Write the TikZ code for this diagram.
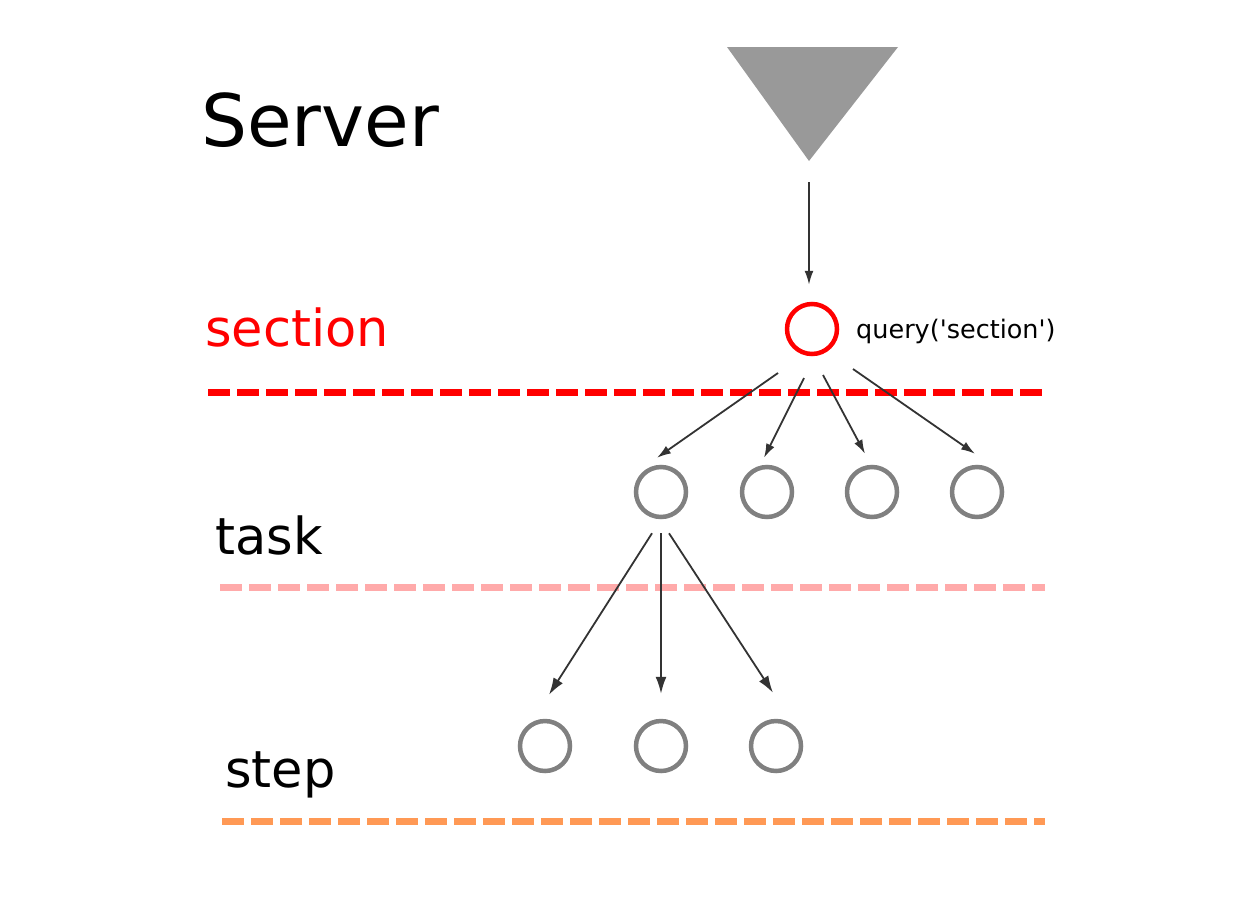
\documentclass[tikz,border=0pt]{standalone}
\usepackage{fontspec}
\setmainfont{DejaVu Sans}
\usetikzlibrary{arrows.meta,calc}
\definecolor{levelred}{HTML}{FF0000}
\definecolor{levelpink}{HTML}{FFAAAA}
\definecolor{levelorange}{HTML}{FF9955}
\definecolor{nodegray}{HTML}{808080}
\definecolor{servergray}{HTML}{999999}
\tikzset{
  level/.style={line width=7pt, dash pattern=on 22pt off 7pt},
  levellabel/.style={anchor=base west, inner sep=0pt, font=\fontsize{51}{60}\selectfont},
  item/.style={circle, draw=nodegray, line width=4.5pt, fill=white, minimum size=50pt, inner sep=0pt},
  flow/.style={-{Latex[length=14pt,width=9pt]}, line width=1.8pt, draw=black!80},
  bigflow/.style={flow, -{Latex[length=17pt,width=11pt]}},
  note/.style={anchor=base west, inner sep=0pt, font=\fontsize{25.5}{30}\selectfont}
}
\begin{document}
\begin{tikzpicture}[x=1pt, y=-1pt]
  \useasboundingbox (0,0) rectangle (1233,900);

  % Server
  \node[anchor=base west, inner sep=0pt, font=\fontsize{72.5}{86}\selectfont] (server) at (201,146) {Server};
  \fill[servergray] (727,47) -- (898,47) -- (809,161) -- cycle;
  \coordinate (apex) at (809,161);

  % Levels
  \node[levellabel, text=levelred] (seclabel) at (205,346) {section};
  \node[levellabel] (tasklabel) at (215,554) {task};
  \node[levellabel] (steplabel) at (225,787) {step};
  \draw[level, levelred] (208,392) coordinate (secl) -- (1047,392) coordinate (secr);
  \draw[level, levelpink] (220,587) coordinate (taskl) -- (1045,587) coordinate (taskr);
  \draw[level, levelorange] (222,821) coordinate (stepl) -- (1045,821) coordinate (stepr);

  % Nodes
  \node[item, draw=levelred] (sec) at (812,329) {};
  \node[note] (query) at (856,338) {query(\textquotesingle section\textquotesingle)};
  \node[item] (t1) at (661,492) {};
  \node[item] (t2) at (767,492) {};
  \node[item] (t3) at (872,492) {};
  \node[item] (t4) at (977,492) {};
  \node[item] (s1) at (545,746) {};
  \node[item] (s2) at (661,746) {};
  \node[item] (s3) at (776,746) {};

  % Flows
  \draw[flow] ([yshift=-21pt]apex) -- ([xshift=-3pt,yshift=17pt]sec.north);
  \coordinate (o1) at ($(sec)+(-34,44)$);
  \coordinate (o2) at ($(sec)+(-8,49)$);
  \coordinate (o3) at ($(sec)+(11,46)$);
  \coordinate (o4) at ($(sec)+(41,40)$);
  \draw[flow] (o1) -- ([xshift=-4pt,yshift=7pt]t1.north);
  \draw[flow] (o2) -- ([xshift=-3pt,yshift=7pt]t2.north);
  \draw[flow] (o3) -- ([xshift=-7pt,yshift=11pt]t3.north);
  \draw[flow] (o4) -- ([xshift=-2pt,yshift=11pt]t4.north);
  \draw[bigflow] ([xshift=-9pt,yshift=-14pt]t1.south) -- ([xshift=4pt,yshift=24pt]s1.north);
  \draw[bigflow] ([yshift=-14pt]t1.south) -- ([yshift=25pt]s2.north);
  \draw[bigflow] ([xshift=8pt,yshift=-14pt]t1.south) -- ([xshift=-3pt,yshift=26pt]s3.north);
\end{tikzpicture}
\end{document}
